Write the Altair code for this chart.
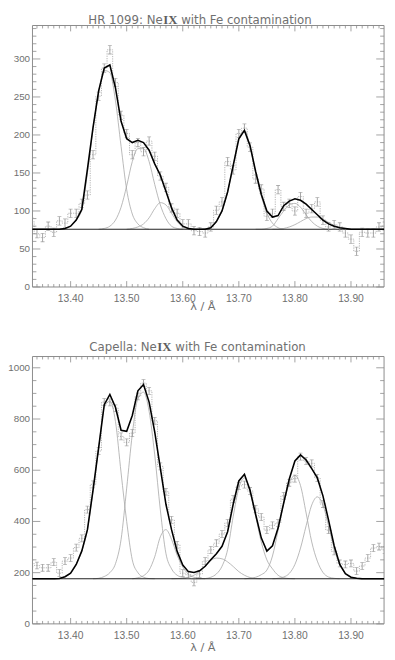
import altair as alt
import pandas as pd

LAM_START = 13.33
BIN_WIDTH = 0.01

# ---------------- HR 1099 (top panel) ----------------
hr_counts = [86, 70, 65, 80, 72, 87, 84, 97, 97, 110,
             121, 174, 251, 288, 312, 269, 226, 202, 174, 190,
             178, 192, 172, 146, 131, 104, 97, 83, 83, 74,
             73, 71, 79, 101, 112, 165, 154, 202, 209, 184,
             142, 129, 93, 97, 128, 106, 110, 100, 119, 97,
             103, 112, 88, 79, 82, 79, 71, 63, 47, 72,
             71, 71, 79, 80]
hr_fit = [76, 76, 76, 76, 76, 76, 77, 80, 88, 102,
          155, 210, 258, 288, 292, 262, 218, 195, 190, 193,
          190, 180, 162, 147, 126, 104, 88, 80, 77, 76,
          76, 76, 78, 86, 100, 125, 160, 195, 206, 186,
          152, 122, 100, 92, 94, 107, 113, 116, 114, 109,
          102, 95, 88, 83, 80, 78, 77, 76, 76, 76,
          76, 76, 76, 76]
hr_components = {
    "c1": (13.38, [76, 77, 80, 88, 102, 150, 208, 256, 285, 282, 245, 185, 128, 96, 83, 78, 76]),
    "c2": (13.45, [76, 77, 80, 88, 105, 133, 165, 182, 182, 165, 135, 108, 90, 80, 77, 76]),
    "c3": (13.50, [76, 77, 79, 83, 91, 103, 111, 108, 97, 86, 79, 77, 76]),
    "c4": (13.63, [76, 76, 78, 86, 100, 125, 160, 195, 206, 185, 150, 120, 97, 84, 78, 76]),
    "c5": (13.73, [76, 76, 77, 80, 90, 100, 108, 110, 105, 95, 86, 80, 77, 76]),
    "c6": (13.76, [76, 76, 77, 79, 82, 86, 90, 92, 92, 89, 85, 81, 78, 77, 76]),
}
HR_BASE = 76
HR_ERR = 5.5

# ---------------- Capella (bottom panel) ----------------
cap_counts = [236, 228, 219, 219, 241, 198, 245, 257, 298, 334,
              446, 545, 675, 866, 865, 842, 732, 709, 745, 888,
              940, 910, 793, 615, 516, 406, 309, 198, 192, 162,
              195, 245, 289, 315, 351, 394, 487, 538, 544, 519,
              449, 417, 366, 385, 394, 500, 551, 567, 653, 636,
              627, 570, 468, 366, 283, 236, 232, 236, 206, 226,
              257, 296, 302, 289]
cap_fit = [176, 176, 176, 176, 176, 177, 184, 198, 232, 285,
           368, 522, 688, 856, 896, 846, 756, 752, 814, 910,
           935, 866, 750, 608, 467, 368, 283, 230, 204, 201,
           207, 225, 250, 274, 303, 360, 468, 558, 584, 522,
           427, 336, 284, 305, 374, 472, 566, 636, 660, 640,
           606, 570, 500, 405, 305, 232, 196, 182, 178, 176,
           176, 176, 176, 176]
cap_components = {
    "b1": (13.37, [176, 177, 184, 198, 232, 285, 368, 520, 685, 845, 870, 790, 590, 400, 250, 200, 182, 177, 176]),
    "b2": (13.44, [176, 178, 185, 200, 235, 330, 530, 740, 880, 905, 830, 660, 445, 275, 215, 190, 182, 178, 176]),
    "b3": (13.51, [176, 180, 188, 210, 262, 340, 368, 330, 268, 222, 194, 182, 178, 176]),
    "b4": (13.58, [176, 177, 178, 182, 190, 205, 228, 248, 257, 254, 242, 224, 204, 190, 181, 177, 176]),
    "b5": (13.62, [176, 176, 177, 182, 195, 225, 290, 420, 530, 570, 515, 420, 320, 250, 215, 190, 180, 177, 176]),
    "b6": (13.71, [176, 178, 182, 192, 210, 265, 365, 470, 548, 580, 540, 433, 320, 245, 201, 183, 178, 176]),
    "b7": (13.76, [176, 178, 183, 197, 232, 296, 383, 464, 496, 464, 383, 296, 232, 197, 183, 178, 176]),
}
CAP_BASE = 176
CAP_ERR = 13.5

# ---------------- axes ----------------
x_major = [13.40, 13.50, 13.60, 13.70, 13.80, 13.90]
x_minor = [round(13.34 + 0.01 * i, 2) for i in range(62)]
x_minor = [t for t in x_minor if round(t * 10, 6) != round(round(t * 10), 6)]
hr_y_major = [0, 50, 100, 150, 200, 250, 300]
hr_y_minor = [v for v in range(0, 341, 10) if v % 50]
cap_y_major = [0, 200, 400, 600, 800, 1000]
cap_y_minor = [v for v in range(0, 1001, 50) if v % 200]

W, H = 359, 611
xscale = alt.Scale(domain=[13.332, 13.959], nice=False, zero=False)
AX = "#8a8a8a"
TXT = "#707070"
DATA = "#8e8e8e"


def one_row():
    return pd.DataFrame({"k": [0]})


def build_panel(counts, err, fit, comps, base, ydom, yr, ymaj, ymin, xlab_y, xtitle_y):
    bot_px, top_px = yr
    ysc = alt.Scale(domain=ydom, range=[bot_px, top_px], nice=False, zero=False)
    lam = [round(LAM_START + BIN_WIDTH * i, 2) for i in range(len(counts))]
    d = pd.DataFrame({"lam": lam, "v": counts, "fit": fit})
    d["lo"] = d["v"] - err
    d["hi"] = d["v"] + err
    X = alt.X("lam:Q", scale=xscale, axis=None)
    Xt = alt.X("t:Q", scale=xscale, axis=None)

    def Y(f):
        return alt.Y(f"{f}:Q", scale=ysc, axis=None)

    layers = []
    # frame
    layers.append(alt.Chart(one_row()).mark_rect(fillOpacity=0, stroke=AX, strokeWidth=1).encode(
        x=alt.value(0), x2=alt.value(W), y=alt.value(top_px), y2=alt.value(bot_px)))
    # components
    rows = []
    for name, (start, vals) in comps.items():
        for i, v in enumerate(vals):
            rows.append({"c": name, "lam": round(start + BIN_WIDTH * i, 2), "v": v})
    cd = pd.DataFrame(rows)
    layers.append(alt.Chart(cd).mark_line(color="#a6a6a6", strokeWidth=0.8, interpolate="monotone",
                                          clip=True).encode(x=X, y=Y("v"), detail="c:N"))
    # baseline
    layers.append(alt.Chart(pd.DataFrame({"b": [base]})).mark_rule(color="#222", strokeWidth=1.1).encode(
        y=Y("b"), x=alt.value(0), x2=alt.value(W)))
    # data histogram + error bars
    layers.append(alt.Chart(d).mark_line(interpolate="step", color="#a0a0a0", strokeWidth=0.8,
                                         strokeDash=[1.2, 1.2], clip=True).encode(x=X, y=Y("v")))
    layers.append(alt.Chart(d).mark_rule(color=DATA, strokeWidth=0.8, clip=True).encode(
        x=X, y=Y("lo"), y2="hi"))
    for f in ("lo", "hi"):
        layers.append(alt.Chart(d).mark_tick(orient="horizontal", size=4, thickness=0.8, color=DATA,
                                             clip=True).encode(x=X, y=Y(f)))
    # total fit
    layers.append(alt.Chart(d).mark_line(color="black", strokeWidth=1.6, clip=True).encode(
        x=X, y=Y("fit")))
    # ticks (inward, all four sides)
    for vals, L in ((x_major, 6), (x_minor, 3)):
        tdf = pd.DataFrame({"t": vals})
        layers.append(alt.Chart(tdf).mark_rule(color=AX, strokeWidth=0.8).encode(
            x=Xt, y=alt.value(bot_px), y2=alt.value(bot_px - L)))
        layers.append(alt.Chart(tdf).mark_rule(color=AX, strokeWidth=0.8).encode(
            x=Xt, y=alt.value(top_px), y2=alt.value(top_px + L)))
    for vals, L in ((ymaj, 8), (ymin, 4)):
        tdf = pd.DataFrame({"t": vals})
        layers.append(alt.Chart(tdf).mark_rule(color=AX, strokeWidth=0.8).encode(
            y=Y("t"), x=alt.value(0), x2=alt.value(L)))
        layers.append(alt.Chart(tdf).mark_rule(color=AX, strokeWidth=0.8).encode(
            y=Y("t"), x=alt.value(W), x2=alt.value(W - L)))
    # tick labels
    layers.append(alt.Chart(pd.DataFrame({"t": x_major})).mark_text(
        font="Liberation Sans", fontSize=10.5, color=TXT, align="center", baseline="alphabetic").encode(
        x=Xt, y=alt.value(xlab_y), text=alt.Text("t:Q", format=".2f")))
    layers.append(alt.Chart(pd.DataFrame({"t": ymaj})).mark_text(
        font="Liberation Sans", fontSize=10, color=TXT, align="right", baseline="middle").encode(
        y=Y("t"), x=alt.value(-2.5), text=alt.Text("t:Q", format="d")))
    # x axis title
    layers.append(alt.Chart(one_row()).mark_text(
        text="λ / Å", font="DejaVu Sans", fontSize=11.5, color=TXT, align="center",
        baseline="alphabetic").encode(x=alt.value(174), y=alt.value(xtitle_y)))
    return layers


def title_layers(prefix, ix_x, y):
    t1 = alt.Chart(one_row()).mark_text(text=prefix, font="DejaVu Sans", fontSize=12, color=TXT,
                                        align="right", baseline="alphabetic").encode(
        x=alt.value(ix_x), y=alt.value(y))
    t2 = alt.Chart(one_row()).mark_text(text="IX", font="Liberation Serif", fontWeight="bold",
                                        fontSize=13, color="#5e5e5e", align="left",
                                        baseline="alphabetic").encode(
        x=alt.value(ix_x + 0.5), y=alt.value(y))
    t3 = alt.Chart(one_row()).mark_text(text="with Fe contamination", font="DejaVu Sans", fontSize=12,
                                        color=TXT, align="left", baseline="alphabetic").encode(
        x=alt.value(ix_x + 18.8), y=alt.value(y))
    return [t1, t2, t3]


top = build_panel(hr_counts, HR_ERR, hr_fit, hr_components, HR_BASE, [0, 344], (267, 0),
                  hr_y_major, hr_y_minor, 282.7, 291)
bottom = build_panel(cap_counts, CAP_ERR, cap_fit, cap_components, CAP_BASE, [0, 1044], (611, 338),
                     cap_y_major, cap_y_minor, 626.7, 639)
titles = title_layers("HR 1099: Ne", 133, -2) + title_layers("Capella: Ne", 127, 332.5)

chart = alt.layer(*top, *bottom, *titles).resolve_scale(y="independent").properties(
    width=W, height=H,
    autosize=alt.AutoSizeParams(type="none"),
    padding={"left": 25, "top": 11, "right": 3, "bottom": 30},
).configure_view(stroke=None)

chart.save("out.html", embed_options={"renderer": "svg", "actions": False})
